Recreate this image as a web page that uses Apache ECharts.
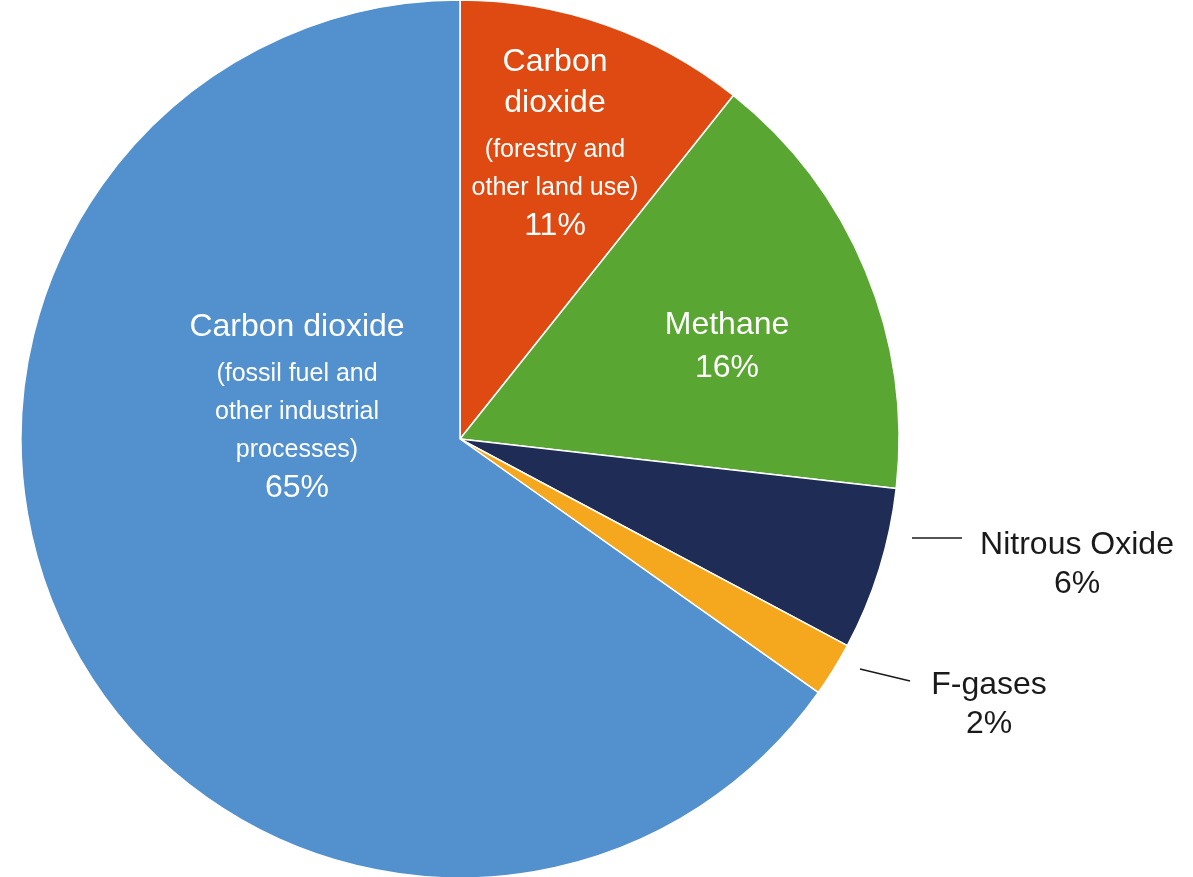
<!DOCTYPE html>
<html>
<head>
<meta charset="utf-8">
<script src="https://cdn.jsdelivr.net/npm/echarts@6/dist/echarts.min.js"></script>
<style>
  html, body { margin: 0; padding: 0; background: #ffffff; }
  #chart { width: 1193px; height: 877px; }
</style>
</head>
<body>
<div id="chart"></div>
<script>
// ---- data ----
const categories = [
  'Carbon dioxide (forestry and other land use)',
  'Methane',
  'Nitrous Oxide',
  'F-gases',
  'Carbon dioxide (fossil fuel and other industrial processes)'
];
const values = [10.7, 16.1, 6.0, 2.0, 65.2];
const percentLabels = ['11%', '16%', '6%', '2%', '65%'];
const titleLines = [['Carbon', 'dioxide'], ['Methane'], ['Nitrous Oxide'], ['F-gases'], ['Carbon dioxide']];
const noteLines = [['(forestry and', 'other land use)'], [], [], [], ['(fossil fuel and', 'other industrial', 'processes)']];

// ---- styles / layout (kept apart from data) ----
const colors = ['#DE4A12', '#5AA632', '#1F2C55', '#F5A81E', '#5390CE'];
const insideLabel = [true, true, false, false, true];
const CX = 460, CY = 439, R = 439;
// label block (centre x, top y) relative to pie centre
const labelOffset = [[95, -397.5], [267, -134.5], [617, 85.5], [529, 225.5], [-163, -132.5]];
// leader line points relative to pie centre (outside labels only)
const leader = [null, null, [[452, 99], [477, 99], [502, 99]], [[400, 230], [425, 236], [450, 242]], null];

const FONT = 'Liberation Sans, Arial, sans-serif';

const data = categories.map((name, i) => {
  const inside = insideLabel[i];
  return {
    name: name,
    value: values[i],
    itemStyle: { color: colors[i] },
    label: {
      position: inside ? 'inside' : 'outside',
      color: inside ? '#ffffff' : '#1a1a1a'
    },
    labelLine: { show: !inside }
  };
});

const chart = echarts.init(document.getElementById('chart'), null, { renderer: 'canvas' });
chart.setOption({
  animation: false,
  backgroundColor: '#ffffff',
  series: [{
    type: 'pie',
    center: [CX, CY],
    radius: R,
    startAngle: 90,
    clockwise: true,
    avoidLabelOverlap: false,
    itemStyle: { borderColor: '#ffffff', borderWidth: 1.5 },
    label: {
      show: true,
      fontFamily: FONT,
      align: 'center',
      formatter: function (p) {
        const i = p.dataIndex;
        const parts = [];
        titleLines[i].forEach(t => parts.push('{b|' + t + '}'));
        if (insideLabel[i]) {
          parts.push(noteLines[i].length ? '{g8| }' : '{g4| }');
        }
        noteLines[i].forEach(t => parts.push('{s|' + t + '}'));
        parts.push('{p|' + percentLabels[i] + '}');
        return parts.join('\n');
      },
      rich: {
        b: { fontSize: 32, lineHeight: 41, fontFamily: FONT, align: 'center' },
        g8: { fontSize: 1, lineHeight: 8, fontFamily: FONT, align: 'center' },
        g4: { fontSize: 1, lineHeight: 4, fontFamily: FONT, align: 'center' },
        s: { fontSize: 25, lineHeight: 38, fontFamily: FONT, align: 'center' },
        p: { fontSize: 32, lineHeight: 37, fontFamily: FONT, align: 'center' }
      }
    },
    labelLine: {
      show: true,
      lineStyle: { color: '#1a1a1a', width: 1.5 }
    },
    labelLayout: function (params) {
      const i = params.dataIndex;
      const o = labelOffset[i];
      const res = {
        x: CX + o[0],
        y: CY + o[1],
        align: 'center',
        verticalAlign: 'top'
      };
      if (leader[i]) {
        res.labelLinePoints = leader[i].map(p => [CX + p[0], CY + p[1]]);
      }
      return res;
    },
    emphasis: { disabled: true },
    data: data
  }]
});
</script>
</body>
</html>
